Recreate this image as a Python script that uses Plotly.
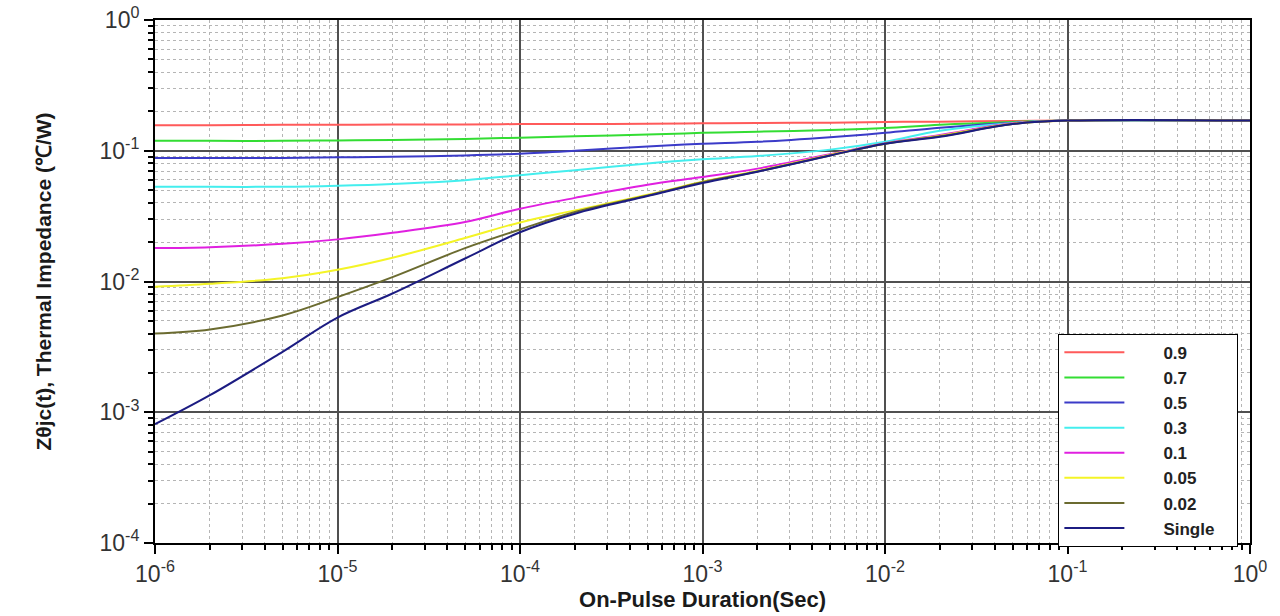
import plotly.graph_objects as go

# Pulse durations (s)
t = [1e-6, 2e-6, 5e-6, 1e-5, 2e-5, 5e-5, 1e-4, 2e-4, 5e-4, 1e-3, 2e-3, 5e-3,
     1e-2, 2e-2, 5e-2, 1e-1, 1.0]

z_09 = [0.157, 0.157, 0.158, 0.158, 0.159, 0.159, 0.160, 0.160, 0.161, 0.162, 0.163, 0.164,
        0.166, 0.167, 0.169, 0.170, 0.170]
z_07 = [0.119, 0.119, 0.119, 0.120, 0.121, 0.123, 0.126, 0.129, 0.133, 0.137, 0.140, 0.144,
        0.149, 0.158, 0.166, 0.170, 0.170]
z_05 = [0.088, 0.088, 0.088, 0.089, 0.090, 0.092, 0.095, 0.100, 0.108, 0.113, 0.117, 0.127,
        0.137, 0.150, 0.164, 0.170, 0.170]
z_03 = [0.053, 0.053, 0.053, 0.054, 0.0557, 0.0596, 0.065, 0.071, 0.080, 0.086, 0.091, 0.102,
        0.117, 0.142, 0.163, 0.170, 0.170]
z_01 = [0.0180, 0.0183, 0.0194, 0.0210, 0.0236, 0.0285, 0.0360, 0.0436, 0.0550, 0.0630, 0.0730,
        0.0940, 0.1140, 0.1320, 0.1620, 0.170, 0.170]
z_005 = [0.0091, 0.0096, 0.0106, 0.0123, 0.0152, 0.0215, 0.0283, 0.0350, 0.0460, 0.0580, 0.0700,
         0.0930, 0.1130, 0.1300, 0.1610, 0.170, 0.170]
z_002 = [0.0040, 0.0043, 0.0055, 0.0076, 0.0108, 0.0180, 0.0250, 0.0340, 0.0455, 0.0575, 0.0695,
         0.0920, 0.1130, 0.1290, 0.1600, 0.170, 0.170]
z_single = [0.00081, 0.00135, 0.0029, 0.0053, 0.0081, 0.0150, 0.0238, 0.0330, 0.0450, 0.0566,
            0.0690, 0.0920, 0.1130, 0.1280, 0.1600, 0.170, 0.170]

names = ["0.9", "0.7", "0.5", "0.3", "0.1", "0.05", "0.02", "Single"]
series = [z_09, z_07, z_05, z_03, z_01, z_005, z_002, z_single]
colors = ["#ff5a5a", "#33dd33", "#3b3bc8", "#44eeee", "#e020e0", "#f4f426", "#6b6b30", "#1c1c82"]

x_tickvals = [1e-6, 1e-5, 1e-4, 1e-3, 1e-2, 1e-1, 1]
x_ticktext = ["10<sup>-6</sup>", "10<sup>-5</sup>", "10<sup>-4</sup>", "10<sup>-3</sup>",
              "10<sup>-2</sup>", "10<sup>-1</sup>", "10<sup>0</sup>"]
y_tickvals = [1e-4, 1e-3, 1e-2, 1e-1, 1]
y_ticktext = ["10<sup>-4</sup>", "10<sup>-3</sup>", "10<sup>-2</sup>", "10<sup>-1</sup>",
              "10<sup>0</sup>"]
minor_digits = [2, 3, 4, 5, 6, 7, 8, 9]

x_minor = [k * d for d in x_tickvals[:-1] for k in minor_digits]
y_minor = [k * d for d in y_tickvals[:-1] for k in minor_digits]

fig = go.Figure()
for name, z, c in zip(names, series, colors):
    label = "\u2003\u2003<b>" + name + "</b>\u2003"
    fig.add_trace(go.Scatter(x=t, y=z, mode="lines", name=label,
                             line=dict(color=c, width=2, shape="spline", smoothing=1.0)))

axis_font = dict(family="Liberation Sans, Arial, sans-serif", size=23, color="#333333")
minor_style = dict(ticks="outside", ticklen=5, tickcolor="black", showgrid=True,
                   gridcolor="#b5b5b5", griddash="dot", gridwidth=1)
fig.update_xaxes(type="log", range=[-6, 0], tickvals=x_tickvals, ticktext=x_ticktext,
                 tickfont=axis_font, showline=True, linecolor="black", linewidth=2,
                 mirror=True, ticks="outside", ticklen=9, tickcolor="black", tickwidth=2,
                 showgrid=True, gridcolor="#505050", gridwidth=1.5,
                 minor=dict(tickvals=x_minor, **minor_style),
                 title=dict(text="<b>On-Pulse Duration(Sec)</b>", standoff=2,
                            font=dict(family="Liberation Sans, Arial, sans-serif", size=22,
                                      color="#1a1a1a")),
                 zeroline=False, automargin=False)
fig.update_yaxes(type="log", range=[-4, 0], tickvals=y_tickvals, ticktext=y_ticktext,
                 tickfont=axis_font, showline=True, linecolor="black", linewidth=2,
                 mirror=True, ticks="outside", ticklen=9, tickcolor="black", tickwidth=2,
                 showgrid=True, gridcolor="#505050", gridwidth=1.5,
                 minor=dict(tickvals=y_minor, **minor_style),
                 title=dict(text="<b>Z\u03b8jc(t), Thermal Impedance (\u2103/W)</b>", standoff=42,
                            font=dict(family="Liberation Sans Narrow, Liberation Sans, Arial, sans-serif",
                                      size=21, color="#1a1a1a")),
                 zeroline=False, automargin=False)

fig.update_layout(
    width=1280, height=616,
    margin=dict(l=155, r=30, t=20, b=73),
    paper_bgcolor="white", plot_bgcolor="white",
    showlegend=True,
    legend=dict(x=0.825, y=0.40, xanchor="left", yanchor="top",
                bgcolor="white", bordercolor="black", borderwidth=1,
                font=dict(family="Liberation Sans, Arial, sans-serif", size=17, color="#222222"),
                tracegroupgap=0, itemwidth=60),
)

fig.write_html("out.html")
